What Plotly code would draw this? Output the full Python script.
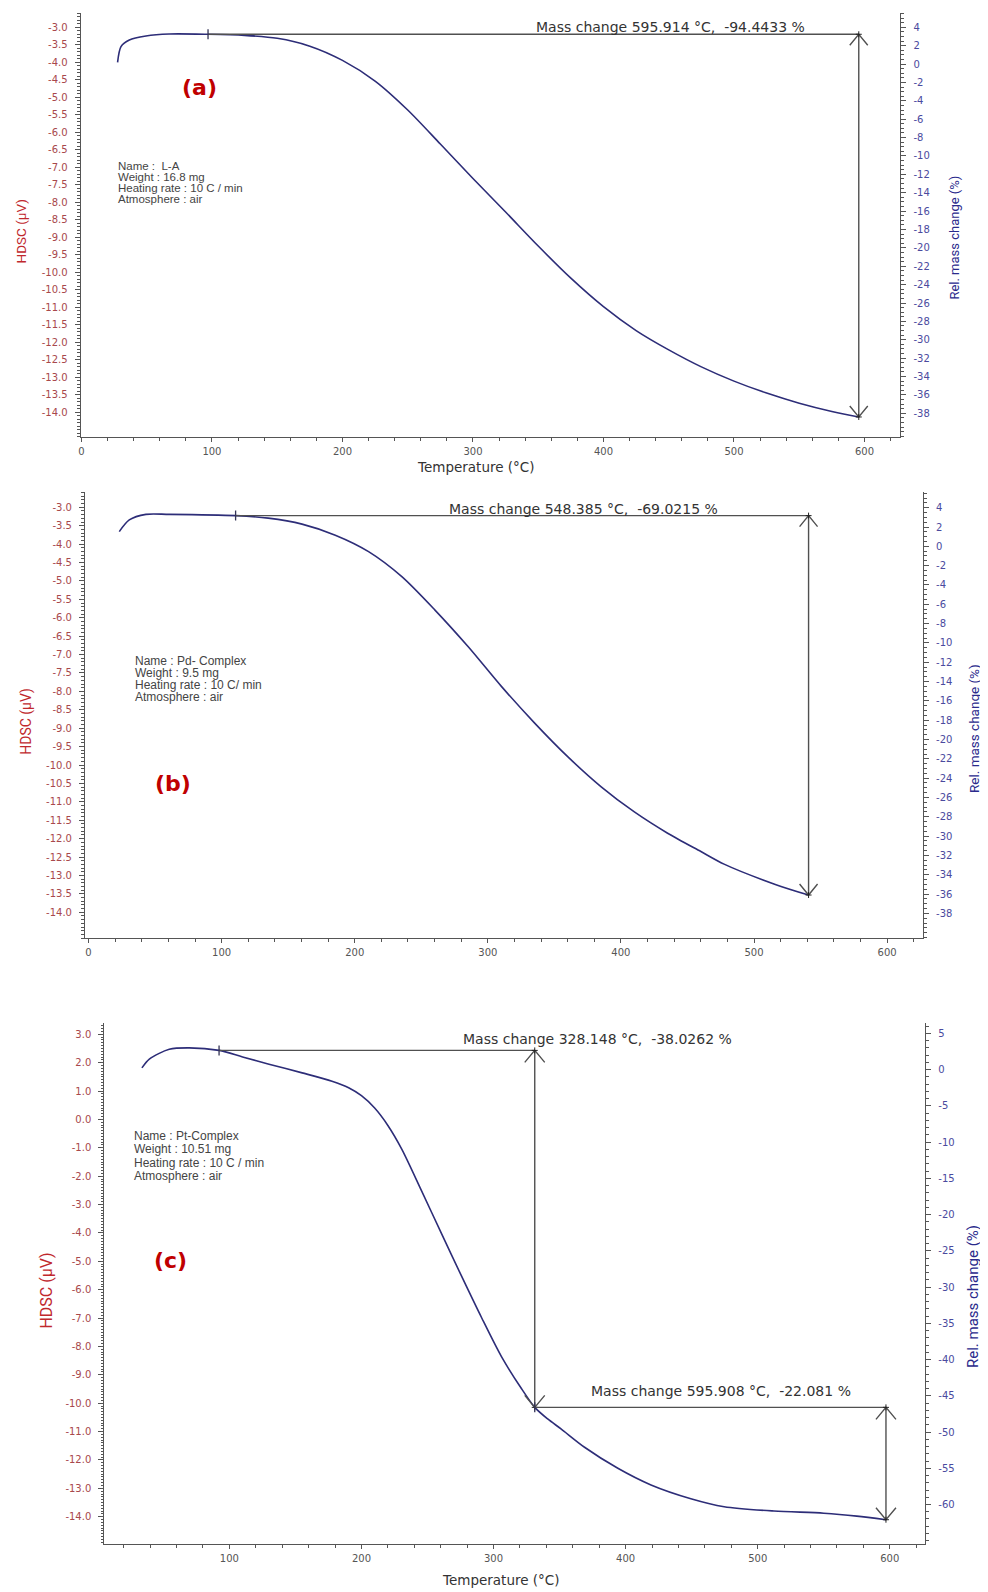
import plotly.graph_objects as go

# Reference canvas and the 8 px page margin the browser adds around the figure
W, H = 988, 1592
OFF = 8
FW, FH = W - OFF, H - OFF

# ---------------- data ----------------
# (a) L-A : relative mass change (%) vs temperature (°C)
temp_a = [27.7, 30.3, 36.7, 49.4, 67.2, 97.0, 125, 150, 175, 200, 225, 250, 275, 300,
          325, 350, 375, 400, 425, 450, 475, 500, 525, 550, 575, 595.6]
mass_a = [0.19, 1.9, 2.62, 3.05, 3.27, 3.24, 3.12, 2.8, 1.95, 0.4, -1.85, -5.0, -8.7, -12.45,
          -16.1, -19.8, -23.3, -26.4, -29.0, -31.1, -32.95, -34.5, -35.8, -36.9, -37.8, -38.4]

# (b) Pd-Complex
temp_b = [23.1, 30.6, 43.1, 60.6, 110.5, 135.0, 160.4, 185.4, 210.4, 235.4, 260.3, 285.3,
          310.2, 335.2, 360.2, 385.2, 410.1, 435.1, 460.1, 477.5, 516.0, 541.0]
mass_b = [1.52, 2.73, 3.31, 3.31, 3.18, 2.92, 2.3, 1.15, -0.55, -3.14, -6.6, -10.4,
          -14.5, -18.3, -21.8, -24.9, -27.5, -29.7, -31.6, -32.9, -35.0, -36.1]

# (c) Pt-Complex
temp_c = [33.8, 39.4, 54.5, 69.6, 92.2, 110.0, 130.0, 155.1, 177.7, 190.3, 200.0, 210.0,
          220.0, 230.6, 245.7, 260.8, 275.8, 290.9, 306.0, 321.1, 331.2, 341.0, 351.3,
          368.9, 394.1, 419.2, 449.4, 474.6, 512.3, 550.0, 575.0, 597.1]
mass_c = [0.24, 1.45, 2.8, 3.0, 2.65, 1.75, 0.75, -0.45, -1.6, -2.5, -3.6, -5.3,
          -7.7, -11.0, -16.8, -22.7, -28.5, -34.2, -39.6, -44.0, -46.6, -48.2, -49.6,
          -52.1, -55.0, -57.3, -59.2, -60.3, -60.9, -61.2, -61.6, -62.1]

# mass-change steps: start T, end T, level at start, level at end
step_start_a = [97.0];  step_end_a = [595.6];  step_top_a = [3.24];  step_bot_a = [-38.4]
step_start_b = [110.5]; step_end_b = [541.0];  step_top_b = [3.18];  step_bot_b = [-36.1]
step_start_c = [92.2, 331.2]; step_end_c = [331.2, 597.1]
step_top_c = [2.65, -46.6];   step_bot_c = [-46.6, -62.1]

step_label_a = ["Mass change 595.914 °C,\u00a0 -94.4433 %"]
step_label_b = ["Mass change 548.385 °C,\u00a0 -69.0215 %"]
step_label_c = ["Mass change 328.148 °C,\u00a0 -38.0262 %", "Mass change 595.908 °C,\u00a0 -22.081 %"]

info_a = ["Name :\u00a0 L-A", "Weight : 16.8 mg", "Heating rate : 10 C / min", "Atmosphere : air"]
info_b = ["Name : Pd- Complex", "Weight : 9.5 mg", "Heating rate : 10 C/ min", "Atmosphere : air"]
info_c = ["Name : Pt-Complex", "Weight : 10.51 mg", "Heating rate : 10 C / min", "Atmosphere : air"]

temp_ticks = [0, 100, 200, 300, 400, 500, 600]
hdsc_ticks_ab = [-3.0 - 0.5 * i for i in range(23)]
hdsc_ticks_c = [3.0 - 1.0 * i for i in range(18)]
mass_ticks_ab = [4 - 2 * i for i in range(22)]
mass_ticks_c = [5 - 5 * i for i in range(14)]

# ---------------- styling / layout ----------------
AX = "#555555"
CURVE = "#2d2d78"
LEFT_TICK = "#a8484c"
LEFT_TITLE = "#c0282d"
RIGHT_TICK = "#4a4a9e"
RIGHT_TITLE = "#2a2a8c"
LINE = "#505050"
TITLEFONT = "Roboto, Liberation Sans, sans-serif"


def px(x):
    return (x - OFF) / FW


def py(y):
    return 1 - (y - OFF) / FH


panels = [
    dict(temps=temp_a, mass=mass_a, ss=step_start_a, se=step_end_a, st=step_top_a, sb=step_bot_a,
         labels=step_label_a, info=info_a, letter="(a)",
         box=(78, 900, 13, 437), xr=[-0.5, 627.4], yl=[-14.706, -2.591], yr=[-40.58, 5.556],
         hticks=hdsc_ticks_ab, hminor=0.1, mticks=mass_ticks_ab, mminor=0.5,
         text_dx=[(-51.6, "right")], text_dy=[7], chev=(9, 11),
         letter_xy=(196.7, 87.3), info_xy=(113, 165.7, 11.0), info_size=11.5,
         ltitle=(18.5, 231, 13.5), rtitle=(953.5, 238, 13), xtitle=(474.5, 466.7)),
    dict(temps=temp_b, mass=mass_b, ss=step_start_b, se=step_end_b, st=step_top_b, sb=step_bot_b,
         labels=step_label_b, info=info_b, letter="(b)",
         box=(82.3, 922.7, 491.7, 938.3), xr=[-2.6, 626.9], yl=[-14.706, -2.576], yr=[-40.58, 5.656],
         hticks=hdsc_ticks_ab, hminor=0.1, mticks=mass_ticks_ab, mminor=0.5,
         text_dx=[(-88.4, "right")], text_dy=[6.7], chev=(9, 11),
         letter_xy=(170.3, 783.3), info_xy=(130, 660.7, 12.0), info_size=12,
         ltitle=(24, 720.8, 14), rtitle=(974, 729, 13.5), xtitle=None),
    dict(temps=temp_c, mass=mass_c, ss=step_start_c, se=step_end_c, st=step_top_c, sb=step_bot_c,
         labels=step_label_c, info=info_c, letter="(c)",
         box=(101.7, 925, 1023.3, 1544), xr=[5.4, 626.8], yl=[-14.962, 3.388], yr=[-65.45, 6.39],
         hticks=hdsc_ticks_c, hminor=0.1, mticks=mass_ticks_c, mminor=1,
         text_dx=[(-74, "left"), (-297.4, "left")], text_dy=[11, 16.7], chev=(10, 12),
         letter_xy=(168.3, 1260.6), info_xy=(129.3, 1136, 13.3), info_size=12,
         ltitle=(43.3, 1290.4, 16), rtitle=(973, 1297, 15), xtitle=(500, 1580)),
]

fig = go.Figure()
layout = dict(width=FW, height=FH, margin=dict(l=0, r=0, t=0, b=0),
              paper_bgcolor="white", plot_bgcolor="white", showlegend=False)
shapes = []
annotations = []

for i, p in enumerate(panels):
    xn = "x" if i == 0 else f"x{i + 1}"
    yl_n = "y" if i == 0 else f"y{2 * i + 1}"
    yr_n = f"y{2 * i + 2}"
    xk = "xaxis" if i == 0 else f"xaxis{i + 1}"
    ylk = "yaxis" if i == 0 else f"yaxis{2 * i + 1}"
    yrk = f"yaxis{2 * i + 2}"
    x0, x1, y0, y1 = p["box"]
    xdom = [px(x0), px(x1)]
    ydom = [py(y1), py(y0)]

    # placeholder so the HDSC axis is drawn
    fig.add_trace(go.Scatter(x=[None], y=[None], xaxis=xn, yaxis=yl_n, hoverinfo="skip",
                             showlegend=False))
    fig.add_trace(go.Scatter(x=p["temps"], y=p["mass"], xaxis=xn, yaxis=yr_n, mode="lines",
                             line=dict(color=CURVE, width=1.6, shape="spline", smoothing=0.8),
                             showlegend=False, hoverinfo="skip"))

    layout[xk] = dict(domain=xdom, range=p["xr"], anchor=yl_n, showline=True, linecolor=AX,
                      linewidth=1.3, ticks="outside", ticklen=4, tickcolor=AX,
                      tickvals=temp_ticks, ticktext=[str(t) for t in temp_ticks],
                      minor=dict(tick0=0, dtick=20, ticks="outside", ticklen=3, tickcolor=AX),
                      showgrid=False, zeroline=False, ticklabelstandoff=1,
                      tickfont=dict(family="DejaVu Sans", size=10, color="#555555"))
    layout[ylk] = dict(domain=ydom, range=p["yl"], anchor=xn, showline=True, linecolor=AX,
                       linewidth=1.3, ticks="outside", ticklen=5, tickcolor=AX,
                       tickvals=p["hticks"], ticktext=[f"{v:.1f}" for v in p["hticks"]],
                       minor=dict(tick0=0, dtick=p["hminor"], ticks="outside", ticklen=2.5,
                                  tickcolor=AX),
                       showgrid=False, zeroline=False, ticklabelstandoff=5,
                       tickfont=dict(family="DejaVu Sans", size=10, color=LEFT_TICK))
    layout[yrk] = dict(range=p["yr"], anchor=xn, overlaying=yl_n, side="right", showline=True,
                       linecolor=AX, linewidth=1.3, ticks="outside", ticklen=5, tickcolor=AX,
                       tickvals=p["mticks"], ticktext=[str(v) for v in p["mticks"]],
                       minor=dict(tick0=0, dtick=p["mminor"], ticks="outside", ticklen=2.5,
                                  tickcolor=AX),
                       showgrid=False, zeroline=False, ticklabelstandoff=5,
                       tickfont=dict(family="DejaVu Sans", size=10, color=RIGHT_TICK))

    cw, ch = p["chev"]
    for k in range(len(p["ss"])):
        s, e, t, b = p["ss"][k], p["se"][k], p["st"][k], p["sb"][k]
        ln = dict(color=LINE, width=1.4)
        shapes.append(dict(type="line", xref=xn, yref=yr_n, x0=s, x1=e, y0=t, y1=t, line=ln))
        shapes.append(dict(type="line", xref=xn, yref=yr_n, x0=e, x1=e, y0=t, y1=b, line=ln))
        shapes.append(dict(type="path", xref=xn, yref=yr_n, xsizemode="pixel", ysizemode="pixel",
                           xanchor=e, yanchor=t, path=f"M{-cw},{-ch} L0,0 L{cw},{-ch}", line=ln))
        shapes.append(dict(type="path", xref=xn, yref=yr_n, xsizemode="pixel", ysizemode="pixel",
                           xanchor=e, yanchor=b, path=f"M{-cw},{ch} L0,0 L{cw},{ch}", line=ln))
        shapes.append(dict(type="path", xref=xn, yref=yr_n, xsizemode="pixel", ysizemode="pixel",
                           xanchor=s, yanchor=t, path="M0,-5 L0,5",
                           line=dict(color="#333355", width=1.3)))
        for yy in (t, b):
            shapes.append(dict(type="path", xref=xn, yref=yr_n, xsizemode="pixel",
                               ysizemode="pixel", xanchor=e, yanchor=yy,
                               path="M-3,0 L3,0 M0,-3 L0,3", line=dict(color="#222", width=1)))
        dx, anc = p["text_dx"][k]
        annotations.append(dict(x=e, y=t, xref=xn, yref=yr_n, text=p["labels"][k],
                                showarrow=False, xanchor=anc, yanchor="middle",
                                xshift=dx, yshift=p["text_dy"][k],
                                font=dict(family="DejaVu Sans", size=14, color="#333333")))

    # panel letter
    lx, ly = p["letter_xy"]
    annotations.append(dict(x=px(lx), y=py(ly), xref="paper", yref="paper",
                            text=f"<b>{p['letter']}</b>", showarrow=False,
                            xanchor="center", yanchor="middle",
                            font=dict(family="DejaVu Sans", size=22, color="#c00000")))
    # info block
    ix, iy, dy = p["info_xy"]
    for j, line in enumerate(p["info"]):
        annotations.append(dict(x=px(ix), y=py(iy + j * dy), xref="paper", yref="paper", text=line,
                                showarrow=False, xanchor="left", yanchor="middle",
                                font=dict(family="Liberation Sans, Arial, sans-serif",
                                          size=p["info_size"], color="#444444")))
    # axis titles
    tx, ty, ts = p["ltitle"]
    annotations.append(dict(x=px(tx), y=py(ty), xref="paper", yref="paper", text="HDSC (μV)",
                            textangle=-90, showarrow=False, xanchor="center", yanchor="middle",
                            font=dict(family=TITLEFONT, size=ts, color=LEFT_TITLE)))
    tx, ty, ts = p["rtitle"]
    annotations.append(dict(x=px(tx), y=py(ty), xref="paper", yref="paper",
                            text="Rel. mass change (%)", textangle=-90, showarrow=False,
                            xanchor="center", yanchor="middle",
                            font=dict(family=TITLEFONT, size=ts, color=RIGHT_TITLE)))
    if p["xtitle"]:
        tx, ty = p["xtitle"]
        annotations.append(dict(x=px(tx), y=py(ty), xref="paper", yref="paper",
                                text="Temperature (°C)", showarrow=False, xanchor="center",
                                yanchor="middle",
                                font=dict(family="DejaVu Sans", size=13.5, color="#333333")))

layout["shapes"] = shapes
layout["annotations"] = annotations
fig.update_layout(**layout)
fig.write_html("out.html")
